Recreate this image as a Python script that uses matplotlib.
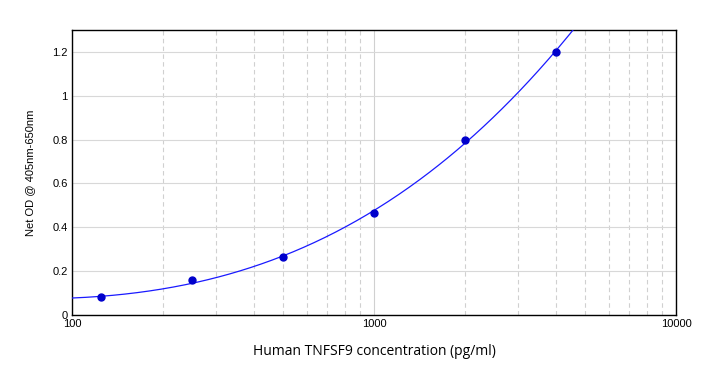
import numpy as np
import matplotlib
matplotlib.use('Agg')
from matplotlib import pyplot as plt
from matplotlib.ticker import FuncFormatter, LogLocator, NullFormatter

conc = [125, 250, 500, 1000, 2000, 4000]
od = [0.08, 0.158, 0.262, 0.463, 0.80, 1.20]

plt.rcParams['font.family'] = ['Liberation Sans', 'DejaVu Sans']

fig = plt.figure(figsize=(7.05, 3.84), dpi=100)
ax = fig.add_axes([0.102, 0.180, 0.857, 0.742])

# fitted standard curve, cubic in log10(concentration)
coef = np.polyfit(np.log10(conc), od, 3)
xs = np.logspace(2, 4, 400)
ax.plot(xs, np.polyval(coef, np.log10(xs)), color='#1a1aff', lw=0.9, zorder=3)
ax.plot(conc, od, 'o', color='#0000cc', ms=5, zorder=4)

ax.set_xscale('log')
ax.set_xlim(100, 10000)
ax.set_ylim(0, 1.3)
ax.set_yticks([0, 0.2, 0.4, 0.6, 0.8, 1.0, 1.2])
ax.yaxis.set_major_formatter(FuncFormatter(lambda v, p: f'{v:g}'))
ax.xaxis.set_major_formatter(FuncFormatter(lambda v, p: f'{v:g}'))
ax.xaxis.set_minor_locator(LogLocator(base=10, subs=np.arange(2, 10)))
ax.xaxis.set_minor_formatter(NullFormatter())

ax.grid(axis='y', which='major', color='#d8d8d8', lw=0.8)
ax.grid(axis='x', which='major', color='#d0d0d0', lw=0.8)
ax.grid(axis='x', which='minor', color='#d0d0d0', lw=0.8, ls=(0, (4, 3)))
ax.set_axisbelow(True)

ax.tick_params(which='both', length=0, labelsize=8, pad=3)
for s in ax.spines.values():
    s.set_linewidth(1.0)

ax.set_ylabel('Net OD @ 405nm-650nm', fontsize=8, labelpad=12)
ax.set_xlabel('Human TNFSF9 concentration (pg/ml)', fontsize=10, labelpad=11,
              family=['Open Sans', 'DejaVu Sans'])

fig.savefig('out.png', dpi=100)
